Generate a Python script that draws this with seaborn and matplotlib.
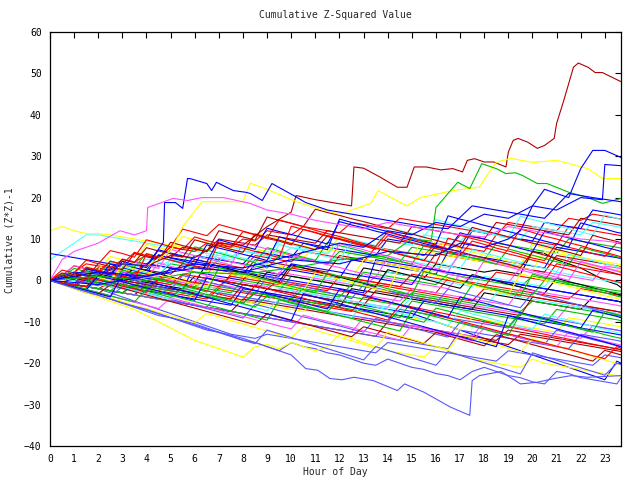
import numpy as np
import pandas as pd
import matplotlib
matplotlib.use("Agg")
import matplotlib.pyplot as plt
import seaborn as sns

# ---------------- data ----------------
hours_grid = np.append(np.arange(0, 24, 0.5), 23.67)  # half-hour samples + last sample

red_lines = [
    [0, 1, 2, 1.5, 1, 3, 2.5, 2, 4, 3.5, 3, 2.5,
     5, 4.5, 4, 3.5, 3, 6, 5.5, 5, 4.5, 7, 6.5, 6,
     5.5, 5, 4.5, 8, 7.5, 7, 6.5, 6, 9, 8.5, 8, 7.5,
     7, 11, 10.5, 10, 9.5, 9, 8.5, 13, 12.5, 12, 11.5, 11,
     10.8],
    [0, -0.5, -1, 0.5, 0, -0.5, -1, -1.5, 1, 0.5, 0, -0.5,
     -1, -1.5, -2, 1.5, 1, 0.5, 0, -0.5, -1, -1.5, -2, -2.5,
     1, 0.5, 0, -0.5, -1, -1.5, -2, -2.5, -3, 0.5, 0, -0.5,
     -1, -1.5, -2, -2.5, -3, -3.5, -4, -4.5, -2, -2.5, -3, -3.5,
     -3.7],
    [0, -0.5, -1, -1.5, -2, -0.5, -1, -1.5, -2, -2.5, -3, -3.5,
     -4, -4.5, -2, -2.5, -3, -3.5, -4, -4.5, -5, -5.5, -6, -6.5,
     -7, -7.5, -4, -4.6, -5.2, -5.8, -6.4, -7, -7.6, -8.2, -8.8, -9.4,
     -10, -10.6, -11.2, -11.8, -12.4, -13, -13.6, -14.2, -14.8, -15.4, -16, -16.6,
     -16.8],
    [0, 1, 2, 4, 3.5, 3, 5, 4.5, 6, 5.5, 8, 7.5,
     7, 9, 8.5, 8, 10, 9.5, 12, 11.5, 11, 13, 12.5, 12,
     11.5, 14, 13.5, 13, 12.5, 15, 14.5, 14, 13.5, 13, 12.5, 12,
     11.5, 11, 14, 13.5, 13, 12.5, 12, 15, 14.5, 16, 15.5, 15,
     14.8],
    [0, 0.5, 0, -0.5, 2, 1.5, 1, 0.5, 0, -0.5, -1, 1.5,
     1, 0.5, 0, -0.5, -1, -1.5, -2, 0, -0.5, -1, -1.5, -2,
     -2.5, -3, -3.5, -1, -1.5, -2, -2.5, -3, -3.5, -4, -4.5, -5,
     -2, -2.5, -3, -3.5, -4, -4.5, -5, -5.5, -6, -6.5, -7, -7.5,
     -7.7],
    [0, -0.5, -1, -1.5, 0, -0.5, -1, 2, 1.5, 1, 0.5, 0,
     -0.5, -1, -1.5, 1, 0.5, 0, -0.5, -1, 3, 2.5, 2, 1.5,
     1, 0.5, 0, -0.5, -1, -1.5, 1.5, 1, 0.5, 0, -0.5, -1,
     -1.5, 2, 1.5, 1, 0.5, 0, 4, 3.5, 3, 2.5, 2, 1.5,
     1.3],
    [0, 1.2, 3.5, 2.8, 2.1, 4.6, 3.9, 6.8, 6.0, 5.1, 8.2, 7.4,
     10.5, 9.6, 8.9, 8.0, 11.8, 11.0, 10.1, 9.5, 8.6, 12.3, 11.5, 10.6,
     9.9, 9.0, 8.3, 7.5, 10.8, 10.0, 9.2, 8.3, 7.7, 6.9, 6.0, 9.5,
     8.7, 7.8, 7.1, 6.3, 5.4, 4.8, 8.9, 8.0, 7.3, 6.5, 5.8, 9.1,
     8.8],
    [0, -0.7, -1.5, 0.8, 0.1, -0.6, -1.4, -2.0, -2.9, 0.5, -0.3, -1.0,
     -1.8, -2.5, -3.3, -4.0, -4.8, -1.2, -2.0, -2.8, -3.5, -4.3, -5.1, -5.8,
     -6.6, -7.3, -8.1, -8.8, -9.6, -6.0, -6.8, -7.5, -8.3, -9.1, -9.8, -10.6,
     -11.3, -12.1, -12.9, -13.6, -14.4, -15.1, -15.9, -16.6, -17.4, -18.2, -18.9, -16.0,
     -16.4],
    [0, 2.5, 1.8, 4.9, 4.0, 7.2, 6.5, 5.6, 9.8, 9.0, 8.1, 12.4,
     11.6, 10.8, 13.5, 12.7, 11.9, 11.1, 10.2, 14.6, 13.8, 13.0, 12.1, 11.3,
     10.6, 9.7, 8.9, 8.2, 11.7, 10.9, 10.0, 9.3, 8.5, 7.6, 10.9, 10.1,
     9.4, 8.5, 7.8, 12.4, 11.6, 10.7, 10.0, 9.1, 8.4, 7.5, 6.8, 6.0,
     5.7],
    [0, -0.6, -1.3, 3.2, 2.5, 1.7, 1.0, 0.2, 6.4, 5.6, 4.9, 4.1,
     3.4, 2.6, 9.3, 8.5, 7.8, 7.0, 6.3, 5.5, 13.1, 12.3, 11.6, 10.8,
     10.1, 9.3, 8.6, 7.8, 7.1, 6.3, 5.6, 4.8, 4.1, 10.2, 9.4, 8.7,
     7.9, 7.2, 6.4, 5.7, 4.9, 4.2, 3.4, 2.7, 1.9, 1.2, 0.4, -0.3,
     -0.6],
]

green_lines = [
    [0, 0.5, 0, -0.5, -1, -1.5, -2, 1, 0.5, 0, -0.5, -1,
     -1.5, 0.5, 0, -0.5, -1, -1.5, -2, -2.5, 1, 0.5, 0, -0.5,
     -1, -1.5, 2, 1.5, 1, 0.5, 0, -0.5, -1, 1.5, 1, 0.5,
     0, -0.5, -1, -1.5, 1, 0.5, 0, -0.5, -1, -1.5, -2, -2.5,
     -2.6],
    [0, 1, 0.5, 2, 1.5, 1, 3, 2.5, 2, 1.5, 4, 3.5,
     3, 2.5, 5, 4.5, 4, 3.5, 3, 6, 5.5, 5, 4.5, 4,
     7, 6.5, 6, 5.5, 5, 4.5, 8, 7.5, 7, 6.5, 6, 5.5,
     5, 9, 8.5, 8, 7.5, 7, 6.5, 10, 9.5, 9, 8.5, 8,
     7.8],
    [0, -0.5, -1, -1.5, -2, -2.5, -0.5, -1, -1.5, -2, -2.5, -3,
     -3.5, -4, -1.5, -2, -2.5, -3, -3.5, -4, -4.5, -2, -2.5, -3,
     -3.5, -4, -4.5, -5, -5.5, -6, -3, -3.5, -4, -4.5, -5, -5.5,
     -6, -6.5, -7, -7.5, -5, -5.5, -6, -6.5, -7, -7.5, -8, -8.5,
     -8.7],
    [0, 0.5, 1, 0.5, 0, -0.5, -1, -1.5, -2, 0, -0.5, -1,
     -1.5, -2, -2.5, -3, 0, -0.5, -1, -1.5, -2, -2.5, -3, -3.5,
     -4, -1, -1.5, -2, -2.5, -3, -3.5, -4, -4.5, -5, -5.5, -1,
     -1.5, -2, -2.5, -3, -3.5, 0, -0.5, -1, -1.5, -2, -2.5, -3,
     -3.2],
    [0, -0.5, -1, -1.5, -2, -2.5, -3, -1, -1.5, -2, -2.5, -3,
     -3.5, -4, -4.5, -5, -5.5, -3, -3.5, -4, -4.5, -5, -5.5, -6,
     -6.5, -7, -7.5, -8, -8.5, -9, -5, -5.5, -6, -6.5, -7, -7.5,
     -8, -8.5, -9, -9.5, -10, -10.5, -7, -7.5, -8, -8.5, -9, -9.5,
     -9.7],
    [0, 0.8, 2.9, 2.1, 1.4, 4.7, 3.9, 3.2, 6.5, 5.7, 4.9, 4.2,
     8.1, 7.3, 6.6, 5.8, 5.0, 4.3, 7.9, 7.1, 6.3, 5.6, 4.8, 9.2,
     8.4, 7.7, 6.9, 6.1, 5.4, 4.6, 3.9, 8.5, 7.7, 7.0, 6.2, 5.4,
     4.7, 3.9, 7.6, 6.8, 6.1, 5.3, 4.5, 3.8, 8.0, 7.2, 6.5, 5.7,
     5.4],
    [0, -0.6, -1.3, -2.1, 0.4, -0.3, -1.1, -1.8, -2.6, -3.3, -4.1, -1.9,
     -2.6, -3.4, -4.1, -4.9, -5.6, -6.4, -3.8, -4.5, -5.3, -6.0, -6.8, -7.5,
     -4.9, -5.6, -6.4, -7.1, -7.9, -8.6, -9.4, -10.1, -6.7, -7.4, -8.2, -8.9,
     -9.7, -10.4, -11.2, -7.8, -8.6, -9.3, -10.1, -10.8, -11.6, -12.3, -13.1, -13.8,
     -14.0],
    [0, 1.6, 0.9, 0.1, -0.6, -1.4, 2.5, 1.7, 1.0, 0.2, -0.5, -1.3,
     -2.0, -2.8, 3.1, 2.3, 1.6, 0.8, 0.1, -0.7, -1.4, -2.2, -2.9, 1.8,
     1.0, 0.3, -0.5, -1.2, -2.0, -2.7, -3.5, 2.2, 1.4, 0.7, -0.1, -0.8,
     -1.6, -2.3, -3.1, -3.8, 1.5, 0.7, 0.0, -0.8, -1.5, -2.3, -3.0, -3.8,
     -4.0],
    [0, -0.7, -1.5, -2.2, -3.0, -3.7, -4.5, -5.2, -2.1, -2.9, -3.6, -4.4,
     -5.1, -5.9, -6.6, -7.4, -8.1, -8.9, -9.6, -4.7, -5.5, -6.2, -7.0, -7.7,
     -8.5, -9.2, -10.0, -10.7, -11.5, -12.2, -7.3, -8.1, -8.8, -9.6, -10.3, -11.1,
     -11.8, -12.6, -13.3, -8.0, -8.8, -9.5, -10.3, -11.0, -11.8, -12.5, -7.5, -8.3,
     -8.6],
]

blue_lines = [
    [0, -0.5, -1, -1.5, -2, -2.5, -3, -3.5, -1, -1.5, -2, -2.5,
     -3, -3.5, -4, -4.5, -5, -5.5, -2, -2.5, -3, -3.5, -4, -4.5,
     -5, -5.5, -6, -6.5, -7, -7.5, -8, -9, -10, -11, -12, -13,
     -14, -15, -16, -17, -18, -19, -20, -21, -22, -23, -24, -19.5,
     -20],
    [0, 1, 0.5, 0, -0.5, 2, 1.5, 1, 0.5, 0, 3, 2.5,
     2, 1.5, 1, 0.5, 0, 4, 3.5, 3, 2.5, 2, 1.5, 1,
     0.5, 5, 4.5, 4, 3.5, 3, 2.5, 2, 1.5, 7, 6.5, 6,
     5.5, 5, 4.5, 4, 3.5, 3, 8, 7.5, 7, 6.5, 6, 5.5,
     5.3],
    [0, -0.5, -1, -1.5, 1, 0.5, 0, -0.5, -1, -1.5, -2, -2.5,
     4, 3.5, 3, 2.5, 2, 1.5, 1, 0.5, 0, -0.5, -1, -1.5,
     -2, -2.5, -3, 5, 4.5, 4, 3.5, 3, 2.5, 2, 1.5, 1,
     0.5, 0, -0.5, -1, -1.5, -2, -2.5, -3, -3.5, -4, -4.5, -5,
     -5.2],
    [0, 0.5, 1, 0.5, 3, 2.5, 2, 1.5, 4, 3.5, 3, 2.5,
     6, 5.5, 5, 4.5, 4, 7, 6.5, 6, 5.5, 9, 8.5, 8,
     7.5, 7, 6.5, 6, 10, 9.5, 9, 8.5, 8, 7.5, 7, 12,
     11.5, 11, 10.5, 10, 9.5, 14, 13.5, 13, 12.5, 17, 16.5, 16,
     15.8],
    [0, -0.5, 0.5, 0, -0.5, -1, -1.5, -2, -2.5, -3, -3.5, -4,
     -4.5, -5, -5.5, -6, -2, -2.5, -3, -3.5, -4, -4.5, -5, -5.5,
     -6, -6.5, -7, -7.5, -8, -8.5, -9, -5, -5.5, -6, -6.5, -7,
     -7.5, -8, -8.5, -9, -9.5, -10, -10.5, -11, -11.5, -12, -12.5, -13,
     -13.2],
    [6.5, 6, 5.5, 5, 4.5, 4, 3.5, 3, 2.5, 6, 5.5, 5,
     4.5, 4, 3.5, 3, 2.5, 2, 1.5, 1, 4, 3.5, 3, 2.5,
     2, 1.5, 1, 0.5, 0, -0.5, -1, 3, 2.5, 2, 1.5, 1,
     0.5, 0, -0.5, -1, -1.5, -2, -2.5, -3, -3.5, -4, -4.5, -5,
     -5.2],
    [0, -0.7, 1.8, 1.1, 0.3, 3.9, 3.1, 2.4, 1.6, 6.2, 5.4, 4.7,
     3.9, 8.6, 7.8, 7.1, 6.3, 5.6, 4.8, 10.5, 9.7, 9.0, 8.2, 7.4,
     14.8, 14.0, 13.3, 12.5, 11.8, 11.0, 10.3, 9.5, 8.7, 15.6, 14.8, 14.1,
     13.3, 12.6, 11.8, 11.1, 10.3, 9.5, 8.8, 8.0, 13.9, 13.1, 12.4, 11.6,
     11.4],
    [0, -0.8, -1.5, -2.3, 1.2, 0.4, -0.3, -1.1, -1.8, -2.6, -3.3, -4.1,
     -4.8, 0.6, -0.2, -0.9, -1.7, -2.4, -3.2, -3.9, -4.7, -5.4, -6.2, -6.9,
     -2.1, -2.9, -3.6, -4.4, -5.1, -5.9, -6.6, -7.4, -8.1, -8.9, -4.0, -4.8,
     -5.5, -6.3, -7.0, -7.8, -8.5, -9.3, -10.0, -10.8, -11.5, -7.2, -8.0, -8.7,
     -9.0],
    [0, 0.9, 0.2, 2.8, 2.1, 1.3, 4.6, 3.8, 3.1, 7.4, 6.6, 5.9,
     5.1, 4.4, 9.8, 9.0, 8.3, 7.5, 12.6, 11.8, 11.1, 10.3, 9.6, 8.8,
     14.2, 13.4, 12.7, 11.9, 11.2, 10.4, 9.7, 8.9, 8.2, 7.4, 11.5, 10.7,
     10.0, 9.2, 8.5, 7.7, 7.0, 11.8, 11.0, 10.3, 9.5, 8.8, 8.0, 7.3,
     7.0],
    [0, -0.8, -1.6, -2.4, -3.2, -4.0, 1.5, 0.7, -0.1, -0.9, -1.7, -2.5,
     -3.3, -4.1, -4.9, -5.7, -6.5, -7.3, -8.1, -8.9, -9.7, -3.2, -4.0, -4.8,
     -5.6, -6.4, -7.2, -8.0, -8.8, -9.6, -10.4, -11.2, -12.0, -12.8, -13.6, -14.4,
     -15.2, -16.0, -8.5, -9.3, -10.1, -10.9, -11.7, -12.5, -13.3, -14.1, -14.9, -15.7,
     -16.0],
]

magenta_lines = [
    [0, 0.5, 0, -0.5, -1, -1.5, -2, -2.5, 0, -0.5, -1, -1.5,
     -2, -2.5, -3, -3.5, -4, -4.5, -5, -2, -2.5, -3, -3.5, -4,
     -4.5, -5, -5.5, -6, -6.5, -3, -3.5, -4, -4.5, -5, -5.5, -6,
     -6.5, -7, -7.5, -8, -8.5, -9, -9.5, -6, -6.5, -7, -7.5, -8,
     -8.2],
    [0, -0.5, -1, -1.5, -2, -2.5, -3, -3.5, -4, -4.5, -5, -5.5,
     -6, -6.5, -7, -7.5, -8, -8.5, -9, -9.5, -10, -10.5, -11, -11.5,
     -12, -12.5, -9, -9.5, -10, -10.5, -11, -11.5, -12, -12.5, -13, -13.5,
     -10, -10.5, -11, -11.5, -12, -12.5, -13, -13.5, -14, -11, -11.5, -12,
     -12.2],
    [0, 1.5, 1, 0.5, 0, -0.5, 2, 1.5, 1, 0.5, 0, -0.5,
     -1, 1, 0.5, 0, -0.5, -1, -1.5, 2, 1.5, 1, 0.5, 0,
     -0.5, -1, -1.5, 1, 0.5, 0, -0.5, -1, -1.5, -2, 1.5, 1,
     0.5, 0, -0.5, 3, 2.5, 2, 1.5, 1, 0.5, 0, 3.5, 3,
     2.8],
    [0, -0.5, -1, 1, 0.5, 0, -0.5, -1, -1.5, -2, -2.5, -3,
     0, -0.5, -1, -1.5, -2, -2.5, -3, -3.5, -4, -1, -1.5, -2,
     -2.5, -3, -3.5, -4, -4.5, -5, -2, -2.5, -3, -3.5, -4, -4.5,
     -5, -5.5, -6, -2, -2.5, -3, -3.5, -4, -4.5, -5, -5.5, -6,
     -6.2],
    [0, -0.6, 1.9, 1.2, 0.4, 2.8, 2.1, 1.3, 0.6, 4.2, 3.4, 2.7,
     1.9, 1.2, 5.3, 4.5, 3.8, 3.0, 2.3, 1.5, 6.1, 5.3, 4.6, 3.8,
     3.1, 2.3, 1.6, 0.8, 5.4, 4.6, 3.9, 3.1, 2.4, 1.6, 0.9, 0.1,
     4.8, 4.0, 3.3, 2.5, 1.8, 1.0, 0.3, 5.2, 4.4, 3.7, 2.9, 2.2,
     1.9],
    [0, -0.8, -1.5, -2.3, -3.0, -3.8, -4.5, -5.3, -6.0, -6.8, -4.2, -5.0,
     -5.7, -6.5, -7.2, -8.0, -8.7, -9.5, -10.2, -11.0, -11.7, -8.4, -9.2, -9.9,
     -10.7, -11.4, -12.2, -12.9, -13.7, -14.4, -10.8, -11.6, -12.3, -13.1, -13.8, -14.6,
     -11.5, -12.3, -13.0, -13.8, -14.5, -15.3, -16.0, -12.4, -13.2, -13.9, -14.7, -15.4,
     -15.6],
    [0, 0.9, 3.6, 2.8, 2.1, 1.3, 5.2, 4.4, 3.7, 2.9, 7.5, 6.7,
     6.0, 5.2, 4.5, 3.7, 9.1, 8.3, 7.6, 6.8, 6.1, 5.3, 4.6, 3.8,
     8.9, 8.1, 7.4, 6.6, 5.9, 5.1, 4.4, 3.6, 2.9, 2.1, 6.8, 6.0,
     5.3, 4.5, 3.8, 3.0, 2.3, 1.5, 0.8, 0.0, 4.6, 3.8, 3.1, 2.3,
     2.0],
]

cyan_lines = [
    [5, 7, 9, 11, 11, 10.5, 10, 9.5, 9, 8.5, 8, 7.5,
     7, 6.5, 6, 5.5, 8, 7.5, 7, 6.5, 6, 5.5, 5, 4.5,
     4, 7, 6.5, 6, 5.5, 5, 4.5, 4, 3.5, 3, 6, 5.5,
     5, 4.5, 4, 3.5, 9, 8.5, 8, 7.5, 7, 6.5, 6, 5.5,
     5.3],
    [0, -0.5, -1, 0.5, 0, -0.5, -1, -1.5, 1, 0.5, 0, -0.5,
     -1, -1.5, -2, 1, 0.5, 0, -0.5, -1, -1.5, -2, 1, 0.5,
     0, -0.5, -1, -1.5, 2, 1.5, 1, 0.5, 0, -0.5, -1, -1.5,
     1, 0.5, 0, -0.5, -1, -1.5, 2, 1.5, 1, 0.5, 0, -0.5,
     -0.7],
    [0, 0.5, 0, -0.5, -1, -1.5, -2, -2.5, -3, -3.5, -1, -1.5,
     -2, -2.5, -3, -3.5, -4, -4.5, -5, -2, -2.5, -3, -3.5, -4,
     -4.5, -5, -5.5, -6, -6.5, -7, -4, -4.5, -5, -5.5, -6, -6.5,
     -7, -3, -3.5, -4, -4.5, -5, -5.5, -6, -6.5, -7, -7.5, -8,
     -8.2],
    [0, 1, 2, 1.5, 3, 2.5, 2, 4, 3.5, 3, 5, 4.5,
     4, 6, 5.5, 5, 7, 6.5, 6, 5.5, 8, 7.5, 7, 6.5,
     9, 8.5, 8, 10, 9.5, 9, 8.5, 11, 10.5, 10, 9.5, 12,
     11.5, 11, 10.5, 10, 13, 12.5, 12, 11.5, 11, 14, 13.5, 13,
     12.8],
    [0, 1.1, 0.4, 2.6, 1.9, 4.3, 3.5, 2.8, 5.2, 4.4, 3.7, 6.8,
     6.0, 5.3, 4.5, 8.1, 7.3, 6.6, 5.8, 9.4, 8.6, 7.9, 7.1, 6.4,
     10.7, 9.9, 9.2, 8.4, 12.8, 12.0, 11.3, 10.5, 14.7, 13.9, 13.2, 12.4,
     11.7, 10.9, 10.2, 15.5, 14.7, 14.0, 13.2, 12.5, 11.7, 11.0, 15.8, 15.0,
     14.7],
    [0, -0.7, -1.5, -2.2, -0.1, -0.9, -1.6, -2.4, -3.1, -3.9, -4.6, -2.0,
     -2.8, -3.5, -4.3, -5.0, -5.8, -6.5, -7.3, -4.5, -5.2, -6.0, -6.7, -7.5,
     -8.2, -9.0, -5.6, -6.4, -7.1, -7.9, -8.6, -9.4, -10.1, -10.9, -7.3, -8.1,
     -8.8, -9.6, -10.3, -11.1, -11.8, -8.1, -8.9, -9.6, -10.4, -11.1, -11.9, -12.6,
     -12.8],
    [0, 0.6, -0.1, 1.9, 1.2, 0.4, 3.3, 2.5, 1.8, 1.0, 4.8, 4.0,
     3.3, 2.5, 6.9, 6.1, 5.4, 4.6, 3.9, 8.7, 7.9, 7.2, 6.4, 5.7,
     4.9, 9.6, 8.8, 8.1, 7.3, 6.6, 5.8, 5.1, 4.3, 3.6, 2.8, 7.4,
     6.6, 5.9, 5.1, 4.4, 3.6, 2.9, 2.1, 6.3, 5.5, 4.8, 4.0, 3.3,
     3.0],
]

yellow_lines = [
    [12, 13, 12, 11.3, 11.3, 11, 10.5, 10, 9.5, 9, 8.5, 8,
     7.5, 7, 9, 8.5, 8, 7.5, 7, 6.5, 6, 5.5, 8, 7.5,
     7, 6.5, 6, 5.5, 5, 4.5, 4, 7, 6.5, 6, 5.5, 5,
     4.5, 4, 3.5, 3, 6, 5.5, 5, 4.5, 4, 3.5, 3, 2.5,
     2.3],
    [0, -1, -2, -3, -4, -5, -6, -7, -8.5, -10, -11.5, -13,
     -14.5, -15.5, -16.5, -17.5, -18.5, -16, -15.5, -16.5, -15, -16, -17, -16,
     -13, -14, -15, -16, -17, -17.5, -18, -18.5, -16, -17, -18, -19,
     -19.5, -20, -20.5, -21, -19, -20, -20.5, -21, -21.5, -22, -22.5, -23,
     -23.2],
    [0, -0.5, -1, 1, 0.5, 0, 2.5, 2, 1.5, 1, 0.5, 0,
     3, 2.5, 2, 1.5, 1, 0.5, 4, 3.5, 3, 2.5, 2, 1.5,
     1, 0.5, 5, 4.5, 4, 3.5, 3, 2.5, 2, 6, 5.5, 5,
     4.5, 4, 3.5, 3, 2.5, 7, 6.5, 6, 5.5, 5, 4.5, 4,
     3.8],
    [0, -0.5, -1, -1.5, -2, -2.5, -3, -3.5, -4, -4.5, -5, -5.5,
     -3, -3.5, -4, -4.5, -5, -5.5, -6, -6.5, -7, -7.5, -5, -5.5,
     -6, -6.5, -7, -7.5, -8, -8.5, -9, -9.5, -10, -11, -12, -9,
     -9.5, -10, -10.5, -11, -11.5, -12, -12.5, -9, -9.5, -10, -10.5, -11,
     -11.2],
    [0, 1.4, 0.7, 3.3, 2.6, 5.8, 5.0, 4.3, 8.7, 7.9, 7.2, 10.6,
     9.8, 9.1, 8.3, 7.6, 6.8, 11.4, 10.6, 9.9, 9.1, 8.4, 7.6, 6.9,
     10.3, 9.5, 8.8, 8.0, 7.3, 6.5, 5.8, 9.9, 9.1, 8.4, 7.6, 6.9,
     6.1, 5.4, 4.6, 3.9, 8.7, 7.9, 7.2, 6.4, 5.7, 4.9, 4.2, 3.4,
     3.1],
    [0, -0.9, -1.7, -2.6, -3.4, -4.3, -5.1, -6.0, -6.8, -7.7, -8.5, -9.4,
     -10.2, -8.0, -8.8, -9.7, -10.5, -11.4, -12.2, -13.1, -13.9, -11.2, -12.0, -12.9,
     -13.7, -14.6, -15.4, -16.3, -12.5, -13.4, -14.2, -15.1, -15.9, -16.8, -13.0, -13.9,
     -14.7, -15.6, -16.4, -17.3, -14.1, -15.0, -15.8, -16.7, -17.5, -18.4, -19.2, -20.1,
     -20.4],
    [0, -0.7, 2.2, 1.5, 0.7, 0.0, 3.6, 2.8, 2.1, 1.3, 0.6, -0.2,
     -0.9, -1.7, 2.9, 2.1, 1.4, 0.6, -0.1, -0.9, -1.6, -2.4, 1.8, 1.0,
     0.3, -0.5, -1.2, -2.0, -2.7, 3.4, 2.6, 1.9, 1.1, 0.4, -0.4, -1.1,
     -1.9, -2.6, -3.4, 1.6, 0.8, 0.1, -0.7, -1.4, -2.2, -2.9, -3.7, -4.4,
     -4.7],
]

darkred_lines = [
    [0, -0.5, -1, -1.5, -2, -2.5, -3, -3.5, -4, -4.5, -5, -5.5,
     -6, -6.5, -7, -7.5, -8, -8.5, -9, -9.5, -10, -10.5, -11, -11.5,
     -12, -12.5, -13, -13.5, -10, -10.5, -11, -11.5, -12, -12.5, -13, -13.5,
     -14, -14.5, -12, -12.5, -13, -13.5, -14, -14.5, -15, -15.5, -16, -16.5,
     -16.7],
    [0, -0.5, -1, -1.5, -2, -2.5, -3, -3.5, -4, -4.5, -5, -5.5,
     -6, -6.5, -7, -7.5, -4.5, -5, -5.5, -6, -6.5, -7, -7.5, -8,
     -8.5, -9, -9.5, -10, -10.5, -11, -11.5, -12, -12.5, -13, -13.5, -14,
     -14.5, -15, -15.5, -13, -13.5, -14, -14.5, -15, -15.5, -16, -16.5, -17,
     -17.2],
    [0, 1, 0.5, 0, 2, 1.5, 1, 3, 2.5, 2, 1.5, 4,
     3.5, 3, 2.5, 2, 1.5, 5, 4.5, 4, 3.5, 3, 2.5, 2,
     6, 5.5, 5, 4.5, 4, 3.5, 3, 2.5, 6.5, 6, 5.5, 5,
     4.5, 4, 3.5, 3, 2.5, 2, 6, 5.5, 5, 4.5, 4, 3.5,
     3.3],
    [0, 0.5, 2, 1.5, 3, 2.5, 5, 4.5, 4, 6, 5.5, 8,
     7.5, 7, 10, 9.5, 9, 8.5, 11, 10.5, 10, 9.5, 9, 12,
     11.5, 11, 10.5, 10, 9.5, 9, 13, 12.5, 12, 11.5, 11, 10.5,
     10, 14, 13.5, 13, 12.5, 12, 11.5, 11, 15, 14.5, 14, 13.5,
     13.3],
    [0, -0.5, -1, -1.5, 1, 0.5, 0, -0.5, -1, -1.5, -2, -2.5,
     -3, -3.5, -4, -4.5, -1, -1.5, -2, -2.5, -3, -3.5, -4, -4.5,
     -5, -5.5, -6, -2.5, -3, -3.5, -4, -4.5, -5, -5.5, -6, -6.5,
     -7, -7.5, -8, -8.5, -4, -4.5, -5, -5.5, -6, -6.5, -7, -7.5,
     -7.7],
    [0, -0.8, -1.6, -2.4, -3.2, -1.1, -1.9, -2.7, -3.5, -4.3, -5.1, -5.9,
     -6.7, -7.5, -8.3, -9.1, -9.9, -10.7, -8.0, -8.8, -9.6, -10.4, -11.2, -12.0,
     -12.8, -13.6, -11.2, -12.0, -12.8, -13.6, -14.4, -15.2, -12.6, -13.4, -14.2, -15.0,
     -15.8, -13.1, -13.9, -14.7, -15.5, -16.3, -17.1, -17.9, -18.7, -19.5, -16.9, -17.7,
     -18.0],
    [0, 1.3, 0.6, 3.0, 2.3, 1.5, 5.1, 4.3, 7.9, 7.1, 6.4, 5.6,
     9.8, 9.0, 8.3, 7.5, 6.8, 11.2, 10.4, 9.7, 8.9, 8.2, 7.4, 10.8,
     10.0, 9.3, 8.5, 7.8, 7.0, 6.3, 5.5, 4.8, 8.4, 7.6, 6.9, 6.1,
     5.4, 4.6, 3.9, 3.1, 6.9, 6.1, 5.4, 4.6, 3.9, 3.1, 2.4, 1.6,
     1.3],
    [0, 1.8, 1.0, 0.3, 4.1, 3.3, 2.6, 6.5, 5.7, 5.0, 9.2, 8.4,
     7.7, 6.9, 12.0, 11.2, 10.5, 9.7, 15.3, 14.5, 13.8, 13.0, 17.2, 16.4,
     15.7, 14.9, 14.2, 13.4, 12.7, 11.9, 11.2, 10.4, 9.7, 8.9, 8.2, 12.8,
     12.0, 11.3, 10.5, 9.8, 9.0, 8.3, 7.5, 6.8, 6.0, 10.9, 10.1, 9.4,
     9.1],
]

slate_lines = [
    [0, -1, -2, -3, -3.5, -4.5, -5.5, -6.5, -7.5, -8.5, -9, -10,
     -11, -12, -12.5, -13.5, -14.5, -15, -16, -17, -15, -16, -16.5, -17.5,
     -18, -19, -20, -20.5, -19, -20, -21, -21.5, -22.5, -23, -24, -22,
     -21, -22, -23, -23.5, -24.5, -25, -22, -22.5, -23.5, -24, -24.5, -25,
     -23.5],
    [0, -0.5, -1, -1.5, -2, -2.5, -3, -3.5, -4, -4.5, -5, -5.5,
     -6, -6.5, -7, -7.5, -8, -8.5, -9, -9.5, -10, -10.5, -11, -11.5,
     -12, -12.5, -13, -13.5, -14, -14.5, -15, -15.5, -16, -16.5, -12, -12.5,
     -13, -13.5, -14, -14.5, -15, -15.5, -16, -16.5, -13, -13.5, -14, -14.5,
     -14.7],
    [0, -0.5, -1, -1.5, -2, -3, -4, -5, -6, -7, -8, -9,
     -10, -11, -12, -13, -13.5, -14, -13, -13.5, -14, -14.5, -15, -15.5,
     -16, -16.5, -17, -17.5, -15, -15.5, -16, -16.5, -17, -17.5, -18, -18.5,
     -19, -19.5, -17, -17.5, -18, -18.5, -19, -19.5, -20, -20.5, -18, -18.5,
     -18.7],
    [0, -0.5, -1, -1.5, -2, -2.5, -3, -3.5, -4, -4.5, -5, -5.5,
     -6, -6.5, -3, -3.5, -4, -4.5, -5, -5.5, -6, -6.5, -7, -7.5,
     -8, -8.5, -9, -9.5, -10, -7, -7.5, -8, -8.5, -9, -9.5, -10,
     -10.5, -11, -11.5, -8, -8.5, -9, -9.5, -10, -10.5, -11, -11.5, -12,
     -12.2],
    [0, -0.7, -1.4, -2.2, -2.9, -3.7, -1.6, -2.3, -3.1, -3.8, -4.6, -5.3,
     -6.1, -6.8, -7.6, -8.3, -9.1, -5.8, -6.5, -7.3, -8.0, -8.8, -9.5, -10.3,
     -11.0, -11.8, -12.5, -9.2, -10.0, -10.7, -11.5, -12.2, -13.0, -13.7, -10.1, -10.9,
     -11.6, -12.4, -13.1, -13.9, -14.6, -15.4, -12.0, -12.8, -13.5, -14.3, -15.0, -15.8,
     -16.0],
    [0, 0.9, 0.2, -0.6, -1.3, 1.5, 0.7, 0.0, -0.8, -1.5, -2.3, 1.2,
     0.4, -0.3, -1.1, -1.8, -2.6, -3.3, 0.9, 0.1, -0.6, -1.4, -2.1, -2.9,
     -3.6, -4.4, -1.0, -1.8, -2.5, -3.3, -4.0, -4.8, -5.5, -2.1, -2.9, -3.6,
     -4.4, -5.1, -5.9, -6.6, -3.0, -3.8, -4.5, -5.3, -6.0, -6.8, -7.5, -8.3,
     -8.5],
    [0, -0.9, -1.8, -2.7, -3.6, -4.5, -5.4, -6.3, -7.2, -8.1, -9.0, -9.9,
     -10.8, -11.7, -12.6, -13.5, -14.4, -15.3, -12.0, -12.9, -13.8, -14.7, -15.6, -16.5,
     -17.4, -18.3, -19.2, -16.0, -16.9, -17.8, -18.7, -19.6, -20.5, -17.2, -18.1, -19.0,
     -19.9, -20.8, -21.7, -22.6, -17.5, -18.4, -19.3, -20.2, -21.1, -22.0, -22.9, -20.0,
     -20.3],
]

black_lines = [
    [0, 0.5, 0, -0.5, -1, 1, 0.5, 0, -0.5, -1, -1.5, -2,
     1, 0.5, 0, -0.5, -1, -1.5, 2, 1.5, 1, 0.5, 0, -0.5,
     -1, -1.5, 3, 2.5, 2, 1.5, 1, 0.5, 4, 3.5, 3, 2.5,
     2, 2.5, 2, 1.5, 7, 6.5, 5, 4, 3, 1.5, 0, -1,
     -1.7],
    [0, -0.5, -1, -1.5, -2, -2.5, -3, -1, -1.5, -2, -2.5, -3,
     -3.5, -4, -4.5, -5, -5.5, -3, -3.5, -4, -4.5, -5, -5.5, -6,
     -6.5, -2, -2.5, -3, -3.5, -4, -4.5, -5, -5.5, -6, -6.5, -7,
     -3, -3.5, -4, -4.5, -5, -5.5, -6, -6.5, -7, -4, -4.5, -5,
     -5.2],
    [0, 0.7, 0.0, 2.4, 1.7, 0.9, 0.2, 3.1, 2.3, 1.6, 0.8, 0.1,
     -0.7, 4.2, 3.4, 2.7, 1.9, 1.2, 0.4, -0.3, 3.8, 3.0, 2.3, 1.5,
     0.8, 0.0, -0.7, -1.5, 2.6, 1.8, 1.1, 0.3, -0.4, -1.2, -1.9, 1.4,
     0.6, -0.1, -0.9, -1.6, -2.4, -3.1, 0.5, -0.3, -1.0, -1.8, -2.5, -3.3,
     -3.5],
]

# individually traced extreme series (own time stamps)
top_darkred_hours = [0, 1, 2, 3, 4, 5, 6, 7, 8, 9, 10, 10.2, 11, 12, 12.5, 12.6, 13.0, 13.7, 14.4, 14.8,
                     15.1, 15.6, 16.2, 16.7, 17.1, 17.3, 17.6, 18.0, 18.4, 18.9, 19.0, 19.2, 19.4, 19.8,
                     20.2, 20.5, 20.9, 21.0, 21.3, 21.7, 21.9, 22.3, 22.6, 22.9, 23.67]
top_darkred_vals = [0, 1.5, 1, 4, 3.5, 6, 5.5, 9, 8.5, 13, 16.5, 20.5, 19.5, 18.5, 18, 27.4, 27.1, 24.9, 22.5, 22.5,
                    27.4, 27.4, 26.7, 27, 26.2, 29, 29.4, 28.6, 28.6, 27.4, 31, 33.8, 34.3, 33.4,
                    31.9, 32.6, 34.3, 37.9, 43.5, 51.5, 52.5, 51.5, 50.2, 50.2, 48]

high_yellow_hours = [0, 1, 2, 3, 4, 5, 5.5, 6.3, 8.0, 8.3, 9, 10, 11, 12, 13.3, 13.6, 14.2, 14.8, 15.35, 16.7,
                     17.8, 18.1, 18.5, 19.1, 20, 21, 22.3, 22.9, 23.67]
high_yellow_vals = [0, 2, 1.5, 4, 3.5, 7, 13, 19, 19, 23.5, 22, 19.5, 17.5, 16, 18.6, 21.7, 19.8, 18, 20, 21.7,
                    22.5, 25.3, 28.5, 29.5, 28.5, 29, 27, 24.6, 24.6]

high_green_hours = [0, 2, 4, 6, 8, 10, 12, 14, 15, 15.8, 16.0, 16.9, 17.4, 17.9, 18.5, 18.9, 19.3, 19.6,
                    20.2, 20.6, 21.5, 22.3, 22.9, 23.67]
high_green_vals = [0, 1, 0, 2, 1.5, 3, 5, 6, 10, 9.5, 17.6, 23.7, 22.2, 28.2, 27, 25.8, 26, 25.3,
                   23.4, 23.4, 21.3, 20, 18.6, 19.8]

high_blue1_hours = [0, 2, 4, 6, 8, 10, 12, 14, 16, 17, 18, 19, 19.5, 20, 20.5, 21, 21.5, 22, 22.5, 23, 23.67]
high_blue1_vals = [0, -1, 1, 3, 2, 5, 4, 7, 6, 9, 8, 10, 12, 18, 22, 21, 20, 27, 31.4, 31.4, 29.7]

high_blue2_hours = [0, 2, 4, 6, 8, 10, 12, 13, 14, 15, 16, 17, 18, 19, 20, 21, 22, 22.9, 23.0, 23.67]
high_blue2_vals = [0, 2, 1, 4, 3, 6, 9, 8, 12, 11, 14, 13, 16, 15, 18, 17, 20, 19.5, 28, 27.7]

early_blue_hours = [0, 1, 2, 3, 4, 4.7, 4.75, 5.2, 5.5, 5.7, 5.8, 6.5, 6.7, 6.9, 7.6, 8.1, 8.3, 8.8, 9.2, 10.1,
                    10.6, 11.5, 12.5, 13.5, 14.5, 15.5, 16.5, 17.5, 18.5, 19.5, 20.5, 21.5, 22.5, 23.67]
early_blue_vals = [0, 2, 1.5, 4, 3.5, 9.2, 18.8, 18.8, 17.4, 24.6, 24.6, 23.4, 21.7, 23.7, 21.7, 21.3, 21, 19.3,
                   23.4, 20.5, 18.8, 17, 16, 15, 14, 13, 12.5, 18, 17, 16, 15, 21, 20, 19]

high_magenta_hours = [0, 0.5, 1, 2, 2.9, 3.5, 4.0, 4.05, 5.1, 5.7, 6.3, 7.2, 8.3, 9, 10, 11, 12, 13, 14, 15,
                      16, 17, 18, 19, 20, 21, 22, 23, 23.67]
high_magenta_vals = [0, 5, 7, 9, 12, 11, 12, 17.6, 19.8, 19.3, 20, 20, 18.6, 17, 16, 14.5, 13.5, 12.5, 14, 13,
                     12, 11, 10.5, 13, 12, 11, 10, 9.5, 9]

low_slate_hours = [0, 1, 2, 3, 4, 5, 6, 7, 8, 9, 10, 10.6, 11.1, 11.6, 12.1, 12.6, 13.4, 14.4, 14.7, 15.5,
                   16.6, 17.4, 17.5, 17.8, 18.7, 19.5, 20.2, 20.9, 21.6, 22.3, 23.67]
low_slate_vals = [0, -1.8, -3.5, -5.5, -7, -9, -10.5, -12.5, -14, -16, -18, -21.3, -21.7, -23.7, -24, -23.4,
                  -24.2, -26.6, -25, -27, -30.6, -32.6, -24.2, -23, -22, -25, -24.6, -23.7, -23, -23.4, -23]

colors = {
    "red": "#ff0000", "green": "#00c000", "blue": "#0000ff", "magenta": "#ff50ff",
    "cyan": "#50ffff", "darkred": "#b00000", "yellow": "#ffff00", "slate": "#5858ff",
    "black": "#000000",
}

# ---------------- assemble long table ----------------
groups = [("red", red_lines), ("green", green_lines), ("blue", blue_lines),
          ("magenta", magenta_lines), ("cyan", cyan_lines), ("darkred", darkred_lines),
          ("yellow", yellow_lines), ("slate", slate_lines), ("black", black_lines)]
records = []
order = []
palette = {}
maxn = max(len(g[1]) for g in groups)
for i in range(maxn):
    for cname, lines in groups:
        if i < len(lines):
            lid = f"{cname}_{i}"
            order.append(lid)
            palette[lid] = colors[cname]
            for h, v in zip(hours_grid, lines[i]):
                records.append((h, v, lid))

traced = [("darkred", top_darkred_hours, top_darkred_vals),
          ("yellow", high_yellow_hours, high_yellow_vals),
          ("green", high_green_hours, high_green_vals),
          ("blue", high_blue1_hours, high_blue1_vals),
          ("blue", high_blue2_hours, high_blue2_vals),
          ("blue", early_blue_hours, early_blue_vals),
          ("magenta", high_magenta_hours, high_magenta_vals),
          ("slate", low_slate_hours, low_slate_vals)]
for k, (cname, hs, vs) in enumerate(traced):
    lid = f"traced_{k}"
    order.append(lid)
    palette[lid] = colors[cname]
    for h, v in zip(hs, vs):
        records.append((h, v, lid))

df = pd.DataFrame(records, columns=["hour", "value", "line"])

# ---------------- plot ----------------
sns.set_style("white")
plt.rcParams["font.family"] = ["DejaVu Sans Mono", "DejaVu Sans"]

fig = plt.figure(figsize=(6.4, 4.8), dpi=100)
ax = fig.add_axes([50 / 640, 1 - 446 / 480, 571 / 640, 414 / 480])

sns.lineplot(data=df, x="hour", y="value", hue="line", hue_order=order, palette=palette,
             estimator=None, sort=False, legend=False, linewidth=0.8, ax=ax)

ax.set_xlim(0, 23.67)
ax.set_ylim(-40, 60)
ax.set_xticks(range(0, 24))
ax.set_yticks(range(-40, 61, 10))
ax.set_xlabel("")
ax.set_ylabel("")
ax.tick_params(direction="in", top=True, right=True, length=4.5, width=0.8,
               labelsize=7, pad=6, colors="black")
for s in ax.spines.values():
    s.set_color("black")
    s.set_linewidth(0.9)

fig.text(335 / 640, 1 - 15 / 480, "Cumulative Z-Squared Value", ha="center", va="center", fontsize=7)
fig.text(335 / 640, 1 - 472 / 480, "Hour of Day", ha="center", va="center", fontsize=7)
fig.text(10 / 640, 1 - 240 / 480, "Cumulative (Z*Z)-1", ha="center", va="center",
         rotation=90, fontsize=7)

fig.savefig("out.png", dpi=100, facecolor="white")
